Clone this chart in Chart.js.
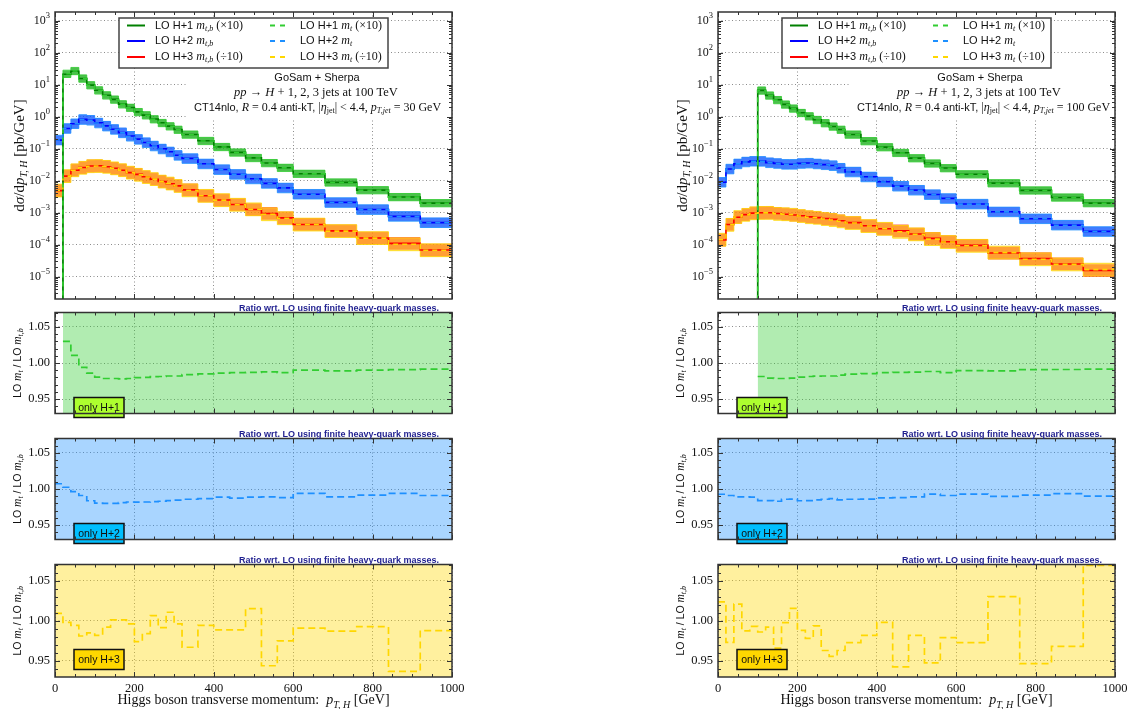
<!DOCTYPE html>
<html>
<head>
<meta charset="utf-8">
<script src="https://cdn.jsdelivr.net/npm/chart.js@4.4.1/dist/chart.umd.min.js"></script>
<style>
  body { margin: 0; background: #fff; width: 1130px; height: 709px; overflow: hidden; position: relative; }
  canvas { position: absolute; }
</style>
</head>
<body>
<canvas id="mainL" width="480" height="300" style="left:0;top:0"></canvas>
<canvas id="r1L" width="480" height="126" style="left:0;top:300px"></canvas>
<canvas id="r2L" width="480" height="126" style="left:0;top:426px"></canvas>
<canvas id="r3L" width="480" height="158" style="left:0;top:552px"></canvas>
<canvas id="mainR" width="480" height="300" style="left:663px;top:0"></canvas>
<canvas id="r1R" width="480" height="126" style="left:663px;top:300px"></canvas>
<canvas id="r2R" width="480" height="126" style="left:663px;top:426px"></canvas>
<canvas id="r3R" width="480" height="158" style="left:663px;top:552px"></canvas>
<script>
// bin edges in p_T,H [GeV]
const edges = [0, 20, 40, 60, 80, 100, 120, 140, 160, 180, 200, 220, 240, 260, 280, 300, 320,
               360, 400, 440, 480, 520, 560, 600, 680, 760, 840, 920, 1000];

// dsigma/dpT for LO m_t,b, p_T,jet = 30 GeV (H+1 x10, H+3 /10 already applied)
const h1Jet30 = [null, 21.5, 26.7, 15.8, 9.8, 6.8, 4.75, 3.5, 2.5, 1.95, 1.43, 1.13, 0.85, 0.65, 0.51, 0.40,
                 0.28, 0.178, 0.115, 0.077, 0.052, 0.036, 0.0256, 0.0166, 0.0089, 0.0051, 0.0031, 0.0020];
const h2Jet30 = [0.186, 0.43, 0.61, 0.83, 0.79, 0.65, 0.52, 0.41, 0.32, 0.25, 0.20, 0.158, 0.124, 0.10, 0.081, 0.063,
                 0.050, 0.034, 0.0225, 0.016, 0.0115, 0.0083, 0.006, 0.0038, 0.0021, 0.00126, 0.00077, 0.00049];
const h3Jet30 = [0.0049, 0.014, 0.0214, 0.026, 0.029, 0.0295, 0.0275, 0.0245, 0.0214, 0.018, 0.0158, 0.0133, 0.0112,
                 0.0095, 0.0081, 0.0069, 0.0052, 0.0034, 0.0025, 0.0018, 0.00126, 0.00095, 0.00069, 0.00043,
                 0.00027, 0.000162, 0.00011, 0.000068];

// same for p_T,jet = 100 GeV
const h1Jet100 = [null, null, null, null, null, 6.7, 4.7, 3.4, 2.45, 1.84, 1.34, 1.05, 0.81, 0.64, 0.50, 0.40,
                  0.28, 0.175, 0.113, 0.075, 0.051, 0.035, 0.025, 0.016, 0.0084, 0.005, 0.0030, 0.0020];
const h2Jet100 = [0.009, 0.0234, 0.034, 0.039, 0.041, 0.041, 0.037, 0.035, 0.033, 0.033, 0.035, 0.036, 0.034, 0.032,
                  0.030, 0.025, 0.019, 0.0133, 0.0093, 0.0068, 0.0051, 0.0037, 0.0028, 0.00187, 0.00107,
                  0.00065, 0.00041, 0.00026];
const h3Jet100 = [0.00014, 0.00043, 0.00072, 0.00087, 0.00097, 0.001, 0.001, 0.00095, 0.0009, 0.00085, 0.0008,
                  0.00074, 0.0007, 0.00066, 0.00062, 0.00056, 0.00049, 0.00039, 0.000315, 0.00027, 0.000215,
                  0.000158, 0.000124, 0.000095, 0.000055, 0.000037, 0.000025, 0.0000155];

// ratio LO m_t / LO m_t,b
const r1Jet30 = [null, 1.030, 1.0106, 0.994, 0.986, 0.9805, 0.9785, 0.9785, 0.978, 0.9785, 0.9797, 0.980, 0.981,
                 0.9813, 0.982, 0.982, 0.984, 0.985, 0.986, 0.9866, 0.987, 0.9878, 0.9866, 0.990, 0.989, 0.990,
                 0.9907, 0.9915];
const r2Jet30 = [1.0073, 1.0024, 0.9963, 0.991, 0.9837, 0.9805, 0.980, 0.980, 0.981, 0.982, 0.9817, 0.982, 0.9825,
                 0.983, 0.984, 0.9846, 0.9858, 0.9866, 0.9886, 0.9874, 0.9886, 0.989, 0.988, 0.9939, 0.989,
                 0.9915, 0.9939, 0.991];
const r3Jet30 = [1.0093, 0.998, 0.9943, 0.981, 0.985, 0.9817, 0.992, 1.001, 1.001, 0.996, 0.974, 0.984, 1.0065,
                 0.9915, 1.0106, 0.996, 0.967, 0.9943, 0.9886, 0.9886, 1.015, 0.944, 0.975, 0.9907, 0.987,
                 0.9927, 0.937, 0.9878];
const r1Jet100 = [null, null, null, null, null, 0.9813, 0.979, 0.9785, 0.9785, 0.979, 0.9805, 0.9813, 0.9817,
                  0.982, 0.982, 0.9833, 0.9846, 0.9854, 0.9866, 0.987, 0.9874, 0.9882, 0.9866, 0.9894, 0.989,
                  0.9907, 0.991, 0.9915];
const r2Jet100 = [0.9927, 0.991, 0.989, 0.989, 0.9886, 0.984, 0.984, 0.983, 0.9858, 0.986, 0.9837, 0.984, 0.985,
                  0.9858, 0.9866, 0.985, 0.9858, 0.986, 0.9878, 0.988, 0.989, 0.993, 0.991, 0.993, 0.9898,
                  0.9915, 0.9935, 0.990];
const r3Jet100 = [1.0236, 0.973, 1.0207, 0.9874, 0.993, 0.986, 0.992, 0.966, 0.9976, 1.0154, 0.988, 0.978, 0.9935,
                  0.963, 0.9557, 0.963, 0.9728, 0.9817, 0.998, 0.9427, 0.9817, 0.9476, 0.979, 0.9728, 1.030,
                  0.9467, 0.968, 1.069];

// scale-uncertainty band edges (multiplicative, per multiplicity)
const bandHi = [1.30, 1.41, 1.58];
const bandLo = [0.77, 0.71, 0.63];

const xTicks = [0, 200, 400, 600, 800, 1000];
const logDecades = [-5, -4, -3, -2, -1, 0, 1, 2, 3];
const ratioTicks = [0.95, 1.00, 1.05];

const mtbColors = ['#008000', '#0000ff', '#ff0000'];
const mtColors = ['#32cd32', '#1e90ff', '#ffd700'];
const boxColors = ['#adff2f', '#00bfff', '#ffd700'];
const legendNames = ['LO H+1 ', 'LO H+2 ', 'LO H+3 '];
const legendScale = [' (×10)', '', ' (÷10)'];

const Y_MIN = 2e-6, Y_MAX = 1.9e3, FLOOR = 1e-9;
const R_MIN = 0.93, R_MAX = 1.07;
const SERIF = '"Liberation Serif", "DejaVu Serif", serif';
const SANS = '"Liberation Sans", "DejaVu Sans", sans-serif';
const GRID = '#8c8c8c';
const FRAME = '#333';

const it = s => `italic ${s}px ${SERIF}`;
const rm = s => `${s}px ${SERIF}`;
const sf = s => `${s}px ${SANS}`;

function rgba(hex, a) {
    const n = parseInt(hex.slice(1), 16);
    return `rgba(${n >> 16},${(n >> 8) & 255},${n & 255},${a})`;
}

function stepPoints(vals) {
    const pts = vals.map((v, i) => ({x: edges[i], y: v}));
    pts.push({x: edges[edges.length - 1], y: vals[vals.length - 1]});
    return pts;
}

// draw a run of text pieces [text, font, dy]
function pieces(ctx, parts, x, y, align) {
    let w = 0;
    parts.forEach(p => { ctx.font = p[1]; w += ctx.measureText(p[0]).width; });
    let cx = align === 'center' ? x - w / 2 : align === 'right' ? x - w : x;
    ctx.textAlign = 'left';
    parts.forEach(p => {
        ctx.font = p[1];
        ctx.fillText(p[0], cx, y + (p[2] || 0));
        cx += ctx.measureText(p[0]).width;
    });
}

function frameAndTicks(chart, yMinor, yMajor) {
    const {ctx, chartArea: a, scales: {x, y}} = chart;
    ctx.save();
    ctx.strokeStyle = FRAME;
    ctx.lineWidth = 1;
    ctx.beginPath();
    for (let v = 0; v <= 1000; v += 50) {
        const px = Math.round(x.getPixelForValue(v)) + 0.5;
        const len = v % 200 === 0 ? 5 : 3;
        ctx.moveTo(px, a.bottom); ctx.lineTo(px, a.bottom - len);
        ctx.moveTo(px, a.top); ctx.lineTo(px, a.top + len);
    }
    yMinor.forEach(v => {
        const py = Math.round(y.getPixelForValue(v)) + 0.5;
        if (py < a.top || py > a.bottom) return;
        ctx.moveTo(a.left, py); ctx.lineTo(a.left + 3, py);
        ctx.moveTo(a.right, py); ctx.lineTo(a.right - 3, py);
    });
    yMajor.forEach(v => {
        const py = Math.round(y.getPixelForValue(v)) + 0.5;
        ctx.moveTo(a.left, py); ctx.lineTo(a.left + 5, py);
        ctx.moveTo(a.right, py); ctx.lineTo(a.right - 5, py);
    });
    ctx.stroke();
    ctx.lineWidth = 1.5;
    ctx.strokeRect(a.left, a.top, a.right - a.left, a.bottom - a.top);
    ctx.restore();
}

const gridOpts = {color: GRID, drawTicks: false, lineWidth: 1};
const borderOpts = {display: false, dash: [1, 2.5]};
const PAD_RIGHT = 28;

function mainChart(id, series, ratios, jetCut) {
    const datasets = [];
    const base = {stepped: true, pointRadius: 0, clip: 0, fill: false, spanGaps: false};
    series.forEach((vals, k) => {
        const mtb = vals.map(v => v == null ? FLOOR : v);
        const mt = vals.map((v, i) => v == null ? FLOOR : v * ratios[k][i]);
        datasets.push(
            {...base, data: stepPoints(mtb.map(v => v * bandHi[k])), borderColor: 'transparent', borderWidth: 0,
             backgroundColor: rgba(mtbColors[k], 0.6), fill: '+1', order: 20},
            {...base, data: stepPoints(mtb.map(v => v * bandLo[k])), borderColor: 'transparent', borderWidth: 0, order: 20},
            {...base, data: stepPoints(mt.map(v => v * bandHi[k])), borderColor: mtColors[k], borderWidth: 0.8,
             backgroundColor: rgba(mtColors[k], 0.5), fill: '+1', order: 10},
            {...base, data: stepPoints(mt.map(v => v * bandLo[k])), borderColor: mtColors[k], borderWidth: 0.8, order: 10},
            {...base, data: stepPoints(mtb), borderColor: mtbColors[k], borderWidth: 1.6, order: 2},
            {...base, data: stepPoints(mt), borderColor: mtColors[k], borderWidth: 1.6, borderDash: [5, 4], order: 1}
        );
    });

    const yMinor = [];
    for (let e = -6; e <= 3; e++) for (let m = 2; m <= 9; m++) yMinor.push(m * Math.pow(10, e));

    const deco = {
        id: 'deco',
        beforeDatasetsDraw(chart) {
            const {ctx, chartArea: a} = chart;
            ctx.save();
            // white box behind the annotation
            ctx.fillStyle = '#fff';
            ctx.fillRect(187, 68, a.right - 187, 50);
            ctx.fillStyle = '#111';
            ctx.textBaseline = 'middle';
            pieces(ctx, [['GoSam + Sherpa', sf(11)]], 317, 78, 'center');
            pieces(ctx, [['pp', it(12.5)], [' → ', rm(12.5)], ['H', it(12.5)],
                         [' + 1, 2, 3 jets at 100 TeV', rm(12.5)]], 316, 93, 'center');
            pieces(ctx, [['CT14nlo, ', sf(11)], ['R', it(12)], [' = 0.4 ', rm(12)], ['anti-kT, ', sf(11)],
                         ['|', rm(12)], ['η', it(12)], ['jet', rm(8), 3], ['| < 4.4, ', rm(12)],
                         ['p', it(12)], ['T,jet', it(8), 3], [' = ' + jetCut + ' GeV', rm(12)]], 194, 108, 'left');

            // legend
            ctx.fillStyle = '#fff';
            ctx.fillRect(119, 18, 269, 50);
            ctx.strokeStyle = '#444';
            ctx.lineWidth = 1.5;
            ctx.strokeRect(119, 18, 269, 50);
            [25.5, 41, 57].forEach((ly, k) => {
                ctx.lineWidth = 2;
                ctx.strokeStyle = mtbColors[k];
                ctx.setLineDash([]);
                ctx.beginPath(); ctx.moveTo(127, ly); ctx.lineTo(145, ly); ctx.stroke();
                ctx.strokeStyle = mtColors[k];
                ctx.setLineDash([5, 5]);
                ctx.beginPath(); ctx.moveTo(270, ly); ctx.lineTo(289, ly); ctx.stroke();
                ctx.setLineDash([]);
                ctx.fillStyle = '#111';
                pieces(ctx, [[legendNames[k], sf(11)], ['m', it(12)], ['t,b', it(8), 3],
                             [legendScale[k], rm(12)]], 155, ly, 'left');
                pieces(ctx, [[legendNames[k], sf(11)], ['m', it(12)], ['t', it(8), 3],
                             [legendScale[k], rm(12)]], 300, ly, 'left');
            });
            ctx.restore();
        },
        afterDraw(chart) {
            const {ctx, chartArea: a, scales: {y}} = chart;
            frameAndTicks(chart, yMinor, y.ticks.map(t => t.value));
            ctx.save();
            ctx.fillStyle = '#111';
            ctx.textBaseline = 'middle';
            // decade labels 10^n
            y.ticks.forEach(t => {
                const py = y.getPixelForValue(t.value);
                const exp = String(Math.round(Math.log10(t.value))).replace('-', '−');
                ctx.font = rm(8.5);
                const ew = ctx.measureText(exp).width;
                ctx.textAlign = 'right';
                ctx.fillText(exp, a.left - 5, py - 5);
                ctx.font = rm(12);
                ctx.fillText('10', a.left - 5 - ew, py);
            });
            // y title
            ctx.translate(20, (a.top + a.bottom) / 2);
            ctx.rotate(-Math.PI / 2);
            pieces(ctx, [['d', rm(15)], ['σ', it(15)], ['/d', rm(15)], ['p', it(15)], ['T, H', it(10), 4],
                         [' [pb/GeV]', rm(15)]], 0, 0, 'center');
            ctx.restore();
        }
    };

    return new Chart(document.getElementById(id), {
        type: 'line',
        data: {datasets},
        options: {
            responsive: false,
            animation: false,
            devicePixelRatio: 1,
            layout: {padding: {top: 12, right: PAD_RIGHT, bottom: 0, left: 0}},
            plugins: {legend: {display: false}, tooltip: {enabled: false}},
            scales: {
                x: {
                    type: 'linear', min: 0, max: 1000,
                    afterBuildTicks: s => { s.ticks = xTicks.map(v => ({value: v})); },
                    afterFit: s => { s.height = 1; },
                    ticks: {display: false},
                    grid: gridOpts, border: borderOpts
                },
                y: {
                    type: 'logarithmic', min: Y_MIN, max: Y_MAX,
                    afterBuildTicks: s => { s.ticks = logDecades.map(e => ({value: Math.pow(10, e)})); },
                    afterFit: s => { s.width = 55; },
                    ticks: {display: false},
                    grid: gridOpts, border: borderOpts
                }
            }
        },
        plugins: [deco]
    });
}

function ratioChart(id, vals, k, showX) {
    const first = vals.findIndex(v => v != null);
    const yMinor = [];
    for (let i = 93; i <= 107; i++) yMinor.push(i / 100);

    const deco = {
        id: 'deco',
        afterDatasetsDraw(chart) {
            const {ctx, chartArea: a} = chart;
            ctx.save();
            const bx = a.left + 19, by = a.top + 85;
            ctx.fillStyle = boxColors[k];
            ctx.fillRect(bx, by, 50, 20);
            ctx.strokeStyle = '#111';
            ctx.lineWidth = 1.5;
            ctx.strokeRect(bx, by, 50, 20);
            ctx.fillStyle = '#111';
            ctx.textBaseline = 'middle';
            pieces(ctx, [['only H+' + (k + 1), sf(10.5)]], bx + 25, by + 10.5, 'center');
            ctx.restore();
        },
        afterDraw(chart) {
            const {ctx, chartArea: a} = chart;
            frameAndTicks(chart, yMinor, ratioTicks);
            ctx.save();
            ctx.fillStyle = '#1f1f8f';
            ctx.textBaseline = 'alphabetic';
            ctx.textAlign = 'right';
            ctx.font = `bold 9px ${SANS}`;
            ctx.fillText('Ratio wrt. LO using finite heavy-quark masses.', a.right - 13, a.top - 2);
            ctx.fillStyle = '#111';
            ctx.textBaseline = 'middle';
            ctx.save();
            ctx.translate(18, (a.top + a.bottom) / 2);
            ctx.rotate(-Math.PI / 2);
            pieces(ctx, [['LO ', sf(10.5)], ['m', it(11.5)], ['t', it(8), 3], [' / LO ', sf(10.5)],
                         ['m', it(11.5)], ['t,b', it(8), 3]], 0, 0, 'center');
            ctx.restore();
            if (showX) {
                ctx.textBaseline = 'alphabetic';
                pieces(ctx, [['Higgs boson transverse momentum:  ', rm(14)], ['p', it(14)], ['T, H', it(10), 4],
                             [' [GeV]', rm(14)]], (a.left + a.right) / 2, 152, 'center');
            }
            ctx.restore();
        }
    };

    return new Chart(document.getElementById(id), {
        type: 'line',
        data: {
            datasets: [
                {data: [{x: edges[first], y: R_MIN}, {x: 1000, y: R_MIN}], fill: 'end', pointRadius: 0,
                 backgroundColor: rgba(mtColors[k], 0.38), borderColor: 'transparent', borderWidth: 0, order: 5},
                {data: stepPoints(vals), stepped: true, pointRadius: 0, clip: 0, fill: false, spanGaps: false,
                 borderColor: mtColors[k], borderWidth: 1.7, borderDash: [7, 4], order: 1}
            ]
        },
        options: {
            responsive: false,
            animation: false,
            devicePixelRatio: 1,
            layout: {padding: {top: 10, right: PAD_RIGHT, bottom: 0, left: 0}},
            plugins: {legend: {display: false}, tooltip: {enabled: false}},
            scales: {
                x: {
                    type: 'linear', min: 0, max: 1000,
                    afterBuildTicks: s => { s.ticks = xTicks.map(v => ({value: v})); },
                    afterFit: s => { s.height = showX ? 33 : 1; },
                    ticks: {display: showX, padding: 4, color: '#111', font: {family: SERIF, size: 12.5},
                            maxRotation: 0, callback: v => String(v)},
                    grid: gridOpts, border: borderOpts
                },
                y: {
                    type: 'linear', min: R_MIN, max: R_MAX,
                    afterBuildTicks: s => { s.ticks = ratioTicks.map(v => ({value: v})); },
                    afterFit: s => { s.width = 55; },
                    ticks: {padding: 5, color: '#111', font: {family: SERIF, size: 12.5}, callback: v => v.toFixed(2)},
                    grid: gridOpts, border: borderOpts
                }
            }
        },
        plugins: [deco]
    });
}

mainChart('mainL', [h1Jet30, h2Jet30, h3Jet30], [r1Jet30, r2Jet30, r3Jet30], 30);
ratioChart('r1L', r1Jet30, 0, false);
ratioChart('r2L', r2Jet30, 1, false);
ratioChart('r3L', r3Jet30, 2, true);

mainChart('mainR', [h1Jet100, h2Jet100, h3Jet100], [r1Jet100, r2Jet100, r3Jet100], 100);
ratioChart('r1R', r1Jet100, 0, false);
ratioChart('r2R', r2Jet100, 1, false);
ratioChart('r3R', r3Jet100, 2, true);
</script>
</body>
</html>
